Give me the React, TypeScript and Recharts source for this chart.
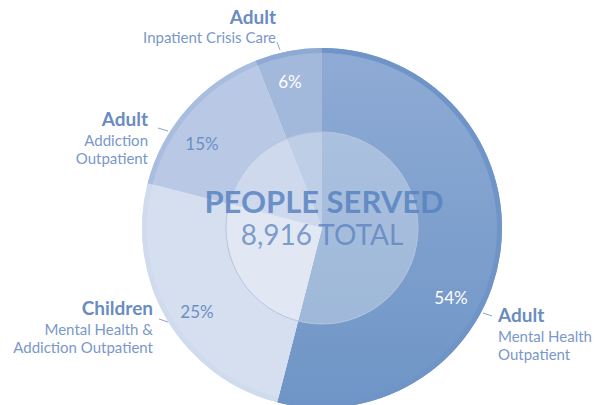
import React from "react"
import { Cell, Pie, PieChart } from "recharts"

// program categories, clockwise from 12 o'clock
const HEADINGS = ["Adult", "Children", "Adult", "Adult"]
const SUBLINES = [
  ["Mental Health", "Outpatient"],
  ["Mental Health &", "Addiction Outpatient"],
  ["Addiction", "Outpatient"],
  ["Inpatient Crisis Care"],
]
const SHARES = [54, 25, 15, 6]
const TOTAL = 8916
const TITLE = "PEOPLE SERVED"

const data = SHARES.map((v, i) => ({ name: HEADINGS[i] + " " + SUBLINES[i].join(" "), value: v }))

const FILLS = ["url(#bigSlice)", "#d5dff0", "#b9c9e5", "#a3b9dc"]
const RIM = ["#6f95c8", "#d0dbee", "#a9bde0", "#8ea9d4"]
const PCT_COLOR = ["#ffffff", "#6d8fc2", "#6d8fc2", "#ffffff"]

// label placement relative to pie centre
const LAYOUT = [
  { px: 129, py: 69, lx: 176, ly: 94, anchor: "start", line: [161, 85, 170, 88] },
  { px: -125, py: 83, lx: -169, ly: 87, anchor: "end", line: [-163, 91, -154, 94] },
  { px: -120, py: -85, lx: -174, ly: -102, anchor: "end", line: [-164, -100, -154, -97] },
  { px: -32, py: -147, lx: -46, ly: -204, anchor: "end", line: [-45, -186, -42, -178] },
]

const FONT = "Lato, 'Open Sans', sans-serif"

function renderLabel(props: any) {
  const { cx, cy, index, percent } = props
  const l = LAYOUT[index]
  const subs = SUBLINES[index]
  return (
    <g key={"lbl" + index}>
      <text
        x={cx + l.px}
        y={cy + l.py}
        textAnchor="middle"
        dominantBaseline="central"
        fontSize={17}
        fontFamily={FONT}
        fill={PCT_COLOR[index]}
      >
        {Math.round(percent * 100) + "%"}
      </text>
      <line
        x1={cx + l.line[0]}
        y1={cy + l.line[1]}
        x2={cx + l.line[2]}
        y2={cy + l.line[3]}
        stroke="#8ea6cb"
        strokeWidth={1}
      />
      <text x={cx + l.lx} y={cy + l.ly} textAnchor={l.anchor} fontSize={19} fontWeight={700} fontFamily={FONT} fill="#6b8cc0">
        {HEADINGS[index]}
      </text>
      {subs.map((s, k) => (
        <text
          key={k}
          x={cx + l.lx}
          y={cy + l.ly + (index === 3 ? 19 : 20 + k * 18)}
          textAnchor={l.anchor}
          fontSize={15}
          fontFamily={FONT}
          fill="#7a98c8"
        >
          {s}
        </text>
      ))}
    </g>
  )
}

function renderCentre(props: any) {
  const { cx, cy, outerRadius } = props
  return (
    <g key="centre">
      <circle cx={cx} cy={cy} r={outerRadius} fill="none" stroke="#b6c4dd" strokeWidth={1} />
      <text x={cx + 2} y={cy - 15} textAnchor="middle" fontSize={31} fontWeight={700} fontFamily={FONT} fill="#5883c0" fillOpacity={0.85}>
        {TITLE}
      </text>
      <text x={cx} y={cy + 17} textAnchor="middle" fontSize={28} fontFamily={FONT} fill="#5a82bd" fillOpacity={0.75}>
        {TOTAL.toLocaleString("en-US") + " TOTAL"}
      </text>
    </g>
  )
}

export default function App() {
  const cx = 322
  const cy = 228
  return (
    <div style={{ position: "absolute", left: 0, top: 0, width: 595, height: 405, background: "#fff" }}>
      <PieChart width={595} height={405} margin={{ top: 0, right: 0, bottom: 0, left: 0 }}>
        <defs>
          <linearGradient id="bigSlice" x1="0" y1="0" x2="0" y2="1">
            <stop offset="0%" stopColor="#8fabd5" />
            <stop offset="100%" stopColor="#6e95c6" />
          </linearGradient>
        </defs>
        <Pie
          data={data}
          dataKey="value"
          cx={cx}
          cy={cy}
          outerRadius={180}
          startAngle={90}
          endAngle={-270}
          stroke="none"
          label={renderLabel}
          labelLine={false}
          isAnimationActive={false}
        >
          {data.map((d, i) => (
            <Cell key={d.name} fill={FILLS[i]} />
          ))}
        </Pie>
        <Pie
          data={data}
          dataKey="value"
          cx={cx}
          cy={cy}
          innerRadius={175}
          outerRadius={180}
          startAngle={90}
          endAngle={-270}
          stroke="none"
          isAnimationActive={false}
        >
          {data.map((d, i) => (
            <Cell key={d.name} fill={RIM[i]} />
          ))}
        </Pie>
        <Pie
          data={[{ name: "centre", value: 1 }]}
          dataKey="value"
          cx={cx}
          cy={cy}
          outerRadius={96}
          fill="#ffffff"
          fillOpacity={0.3}
          stroke="none"
          label={renderCentre}
          labelLine={false}
          isAnimationActive={false}
        />
      </PieChart>
    </div>
  )
}
